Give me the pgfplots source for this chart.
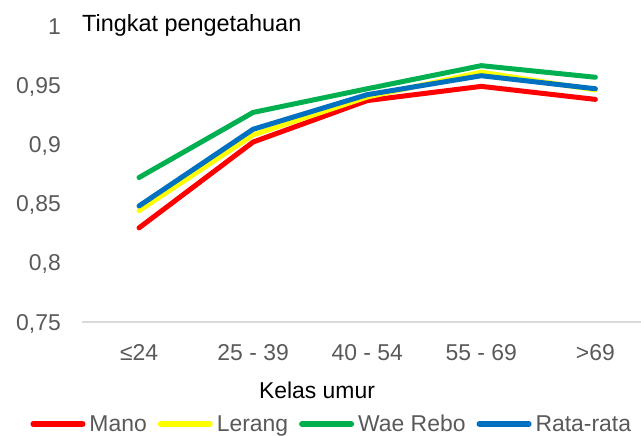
\documentclass[border=0pt]{standalone}
\usepackage{pgfplots}
\pgfplotsset{compat=1.18}
\usepackage{fontspec}
\setmainfont{Liberation Sans}
\definecolor{tickgray}{HTML}{595959}
\definecolor{axgray}{HTML}{D9D9D9}
\definecolor{cred}{HTML}{FF0000}
\definecolor{cyellow}{HTML}{FFFF00}
\definecolor{cgreen}{HTML}{00B050}
\definecolor{cblue}{HTML}{0070C0}
\begin{document}
\begin{tikzpicture}[x=1bp,y=1bp]
\path[use as bounding box] (-82,-114) rectangle (559,322);
\begin{axis}[
  at={(0,0)}, anchor=south west,
  scale only axis=true,
  width=559bp, height=296bp,
  xmin=-0.5, xmax=4.4,
  ymin=0.75, ymax=1,
  clip=false,
  axis x line*=bottom,
  axis y line*=left,
  y axis line style={draw=none},
  x axis line style={axgray, line width=1.3bp, -},
  xtick={0,1,2,3,4},
  xticklabels={≤24, 25 - 39, 40 - 54, 55 - 69, >69},
  major tick length=0pt,
  tick style={draw=none},
  xticklabel style={font=\fontsize{23}{26}\selectfont, text=tickgray, anchor=base, inner sep=0pt, yshift=-39bp},
  ytick={0.75,0.8,0.85,0.9,0.95,1},
  yticklabels={{0,75},{0,8},{0,85},{0,9},{0,95},{1}},
  yticklabel style={font=\fontsize{23}{26}\selectfont, text=tickgray, anchor=base east, inner sep=0pt, xshift=-21bp, yshift=-8.2bp},
  xlabel={Kelas umur},
  xlabel style={font=\fontsize{23}{26}\selectfont, at={(axis description cs:0.4204,0)}, anchor=base, inner sep=0pt, yshift=-76bp},
  legend columns=4,
  legend style={draw=none, fill=none, at={(axis description cs:0.445,0)}, anchor=center, yshift=-102bp,
    font=\fontsize{23}{26}\selectfont, text=tickgray,
    nodes={inner sep=0pt},
    /tikz/every odd column/.append style={column sep=4bp},
    /tikz/every even column/.append style={column sep=11bp}},
  legend image code/.code={\draw[#1, line width=5.5bp, line cap=round] (2.75bp,0) -- (52.25bp,0);},
  every axis plot/.append style={line width=5bp, line join=round, line cap=round},
]
\addplot[cred] coordinates {(0,0.8295) (1,0.902) (2,0.937) (3,0.949) (4,0.938)};
\addlegendentry{Mano}
\addplot[cyellow] coordinates {(0,0.844) (1,0.908) (2,0.940) (3,0.961) (4,0.946)};
\addlegendentry{Lerang}
\addplot[cgreen] coordinates {(0,0.872) (1,0.927) (2,0.947) (3,0.9665) (4,0.9567)};
\addlegendentry{Wae Rebo}
\addplot[cblue] coordinates {(0,0.848) (1,0.9128) (2,0.942) (3,0.958) (4,0.947)};
\addlegendentry{Rata-rata}
\node[anchor=base west, font=\fontsize{23.5}{26}\selectfont, inner sep=0pt, yshift=-6bp] at (rel axis cs:0,1) {Tingkat pengetahuan};
\end{axis}
\end{tikzpicture}
\end{document}
